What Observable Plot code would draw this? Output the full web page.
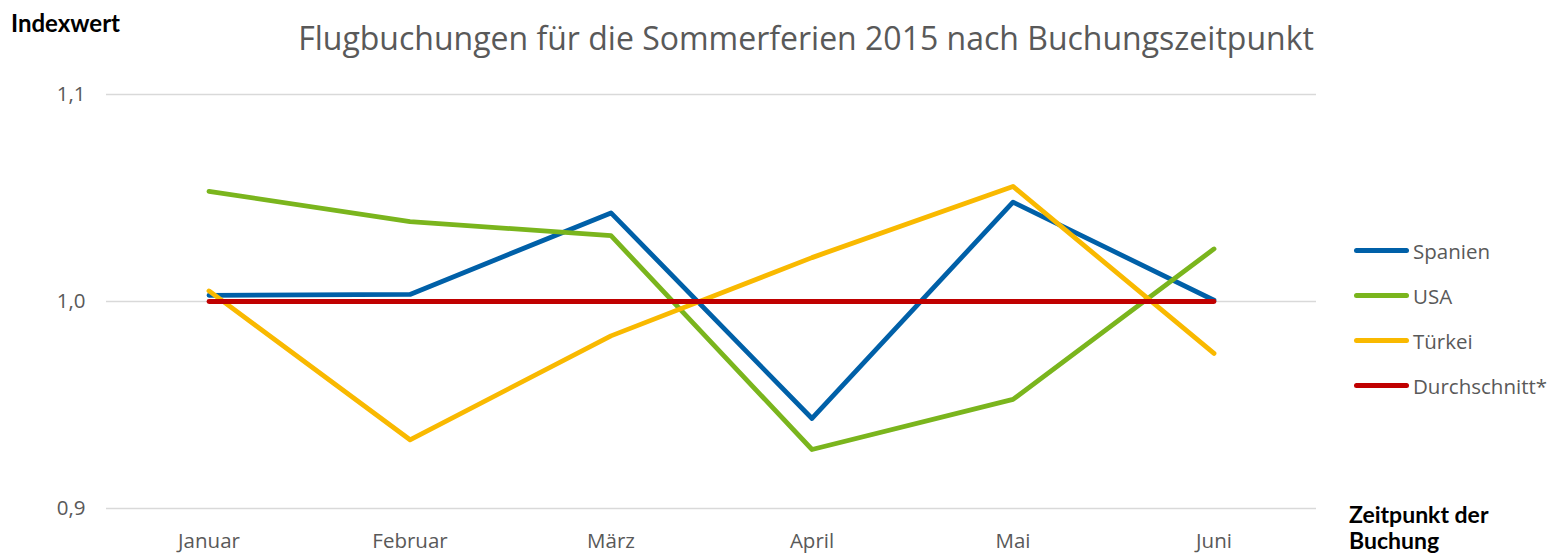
<!DOCTYPE html>
<html>
<head>
<meta charset="utf-8">
<script src="https://cdn.jsdelivr.net/npm/d3@7"></script>
<script src="https://cdn.jsdelivr.net/npm/@observablehq/plot@0.6"></script>
<style>
  body { margin: 0; background: #fff; }
  #wrap { position: relative; width: 1550px; height: 558px; overflow: hidden; font-family: "Open Sans", sans-serif; }
  #wrap svg { position: absolute; left: 0; top: 0; }
  .ov { position: absolute; white-space: nowrap; }
  #title { left: 0; width: 1612px; text-align: center; top: 22px; font-size: 32px; line-height: 1; color: #595959; }
  #ylab { left: 11px; top: 10px; font-family: Lato, sans-serif; font-weight: bold; font-size: 24px; line-height: 1.1; color: #000; }
  #xlab { left: 1349px; top: 501px; font-family: Lato, sans-serif; font-weight: bold; font-size: 23px; line-height: 26px; color: #000; }
  #legend { left: 1354px; top: 228px; }
  .li { display: flex; align-items: center; height: 45px; font-size: 20.5px; color: #595959; }
  .sw { width: 55px; height: 5px; border-radius: 3px; margin-right: 4px; flex: none; }
</style>
</head>
<body>
<div id="wrap">
  <div id="title" class="ov"></div>
  <div id="ylab" class="ov"></div>
  <div id="xlab" class="ov"></div>
  <div id="legend" class="ov"></div>
</div>
<script>
const titleText = "Flugbuchungen für die Sommerferien 2015 nach Buchungszeitpunkt";
const yAxisTitle = "Indexwert";
const xAxisTitle = ["Zeitpunkt der", "Buchung"];
const months = ["Januar", "Februar", "März", "April", "Mai", "Juni"];
const seriesNames = ["Spanien", "USA", "Türkei", "Durchschnitt*"];
const seriesColors = ["#0060A8", "#7AB51D", "#F9B900", "#C00000"];
const spanien = [1.0030, 1.0034, 1.0428, 0.9435, 1.0480, 1.0006];
const usa = [1.0532, 1.0386, 1.0318, 0.9285, 0.9527, 1.0254];
const tuerkei = [1.0051, 0.9332, 0.9834, 1.0212, 1.0556, 0.9749];
const durchschnitt = [1.0, 1.0, 1.0, 1.0, 1.0, 1.0];
const yTicks = [0.9, 1.0, 1.1];

const seriesValues = [spanien, usa, tuerkei, durchschnitt];
const data = [];
seriesNames.forEach((s, i) => months.forEach((m, j) => data.push({series: s, month: m, value: seriesValues[i][j]})));

const fmt = v => d3.format(".1f")(v).replace(".", ",");

const chart = Plot.plot({
  width: 1550,
  height: 558,
  marginTop: 94,
  marginBottom: 50,
  marginLeft: 106,
  marginRight: 234,
  style: { fontFamily: "Open Sans, sans-serif", background: "transparent" },
  x: { type: "band", domain: months, padding: 0 },
  y: { domain: [0.9, 1.1] },
  color: { domain: seriesNames, range: seriesColors },
  marks: [
    Plot.ruleY(yTicks, { stroke: "#d9d9d9", strokeWidth: 1.3, strokeOpacity: 1 }),
    Plot.axisX({ label: null, tickSize: 0, tickPadding: 25, fontSize: 20.5, fill: "#595959" }),
    Plot.axisY({ ticks: yTicks, tickFormat: fmt, label: null, tickSize: 0, tickPadding: 21, fontSize: 20.5, fill: "#595959" }),
    Plot.line(data, { x: "month", y: "value", z: "series", stroke: "series", strokeWidth: 4.8, strokeLinecap: "round", strokeLinejoin: "round" })
  ]
});
const wrap = document.getElementById("wrap");
wrap.insertBefore(chart, wrap.firstChild);

document.getElementById("title").textContent = titleText;
document.getElementById("ylab").textContent = yAxisTitle;
document.getElementById("xlab").innerHTML = xAxisTitle.join("<br>");
const leg = document.getElementById("legend");
seriesNames.forEach((s, i) => {
  const row = document.createElement("div");
  row.className = "li";
  const sw = document.createElement("div");
  sw.className = "sw";
  sw.style.background = seriesColors[i];
  const t = document.createElement("span");
  t.textContent = s;
  row.appendChild(sw); row.appendChild(t);
  leg.appendChild(row);
});
</script>
</body>
</html>
